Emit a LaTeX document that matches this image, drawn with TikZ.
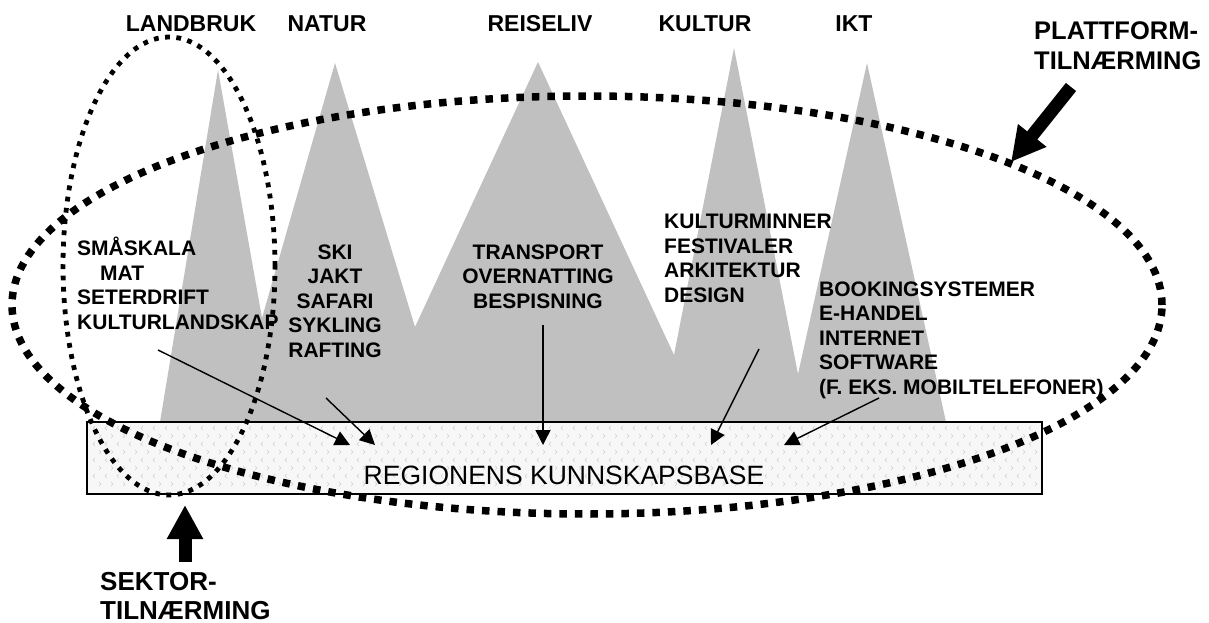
\documentclass[tikz,border=0pt]{standalone}
\usepackage{fontspec}
\setmainfont{Liberation Sans}
\usetikzlibrary{arrows.meta}
\definecolor{peak-grey}{HTML}{C0C0C0}
\colorlet{base-fill}{black!3}
\colorlet{base-mark}{black!18}

\begin{document}
\begin{tikzpicture}[x=1pt, y=-1pt,
    head/.style={font=\fontsize{23}{27}\selectfont\bfseries, anchor=base, inner sep=0pt},
    items/.style={font=\fontsize{21}{24.5}\selectfont\bfseries, inner sep=0pt},
    approach/.style={font=\fontsize{25.5}{30}\selectfont\bfseries, align=left, anchor=base west, inner sep=0pt},
    link/.style={line width=1.4pt, -{Triangle[length=15pt, width=15pt]}},
    bigarrow/.style={line width=13pt, -{Triangle[length=34pt, width=34pt]}},
    platform/.style={line width=7.5pt, dash pattern=on 7.5pt off 8pt},
    sector/.style={line width=4.8pt, dash pattern=on 4.8pt off 6.5pt}]
    \useasboundingbox (0,0) rectangle (1209,623);

    % the five peaks
    \fill[peak-grey] (160,422) -- (218,70) -- (262,318) -- (335,63) -- (415,327)
        -- (538,62) -- (674,355) -- (734,48) -- (798,374) -- (867,63) -- (946,422) -- cycle;

    % knowledge base
    \node[draw, line width=1.2pt, fill=base-fill, minimum width=955pt, minimum height=72pt,
        inner sep=0pt] (base) at (564.5,458) {};
    \foreach \py [count=\r] in {428,436,...,490} {
        \foreach \px in {93,105,...,1036} {
            \ifodd\r
                \draw[base-mark, line width=0.5pt] (\px+2,\py-2) -- (\px,\py) -- (\px+2,\py+2);
            \else
                \draw[base-mark, line width=0.5pt] (\px+6,\py-2) -- (\px+8,\py) -- (\px+6,\py+2);
            \fi
        }
    }
    \node[font=\fontsize{26.5}{30}\selectfont, anchor=base, inner sep=0pt] (basetext) at (564,484)
        {REGIONENS KUNNSKAPSBASE};

    % sector headings
    \node[head] (landbruk) at (191,32) {LANDBRUK};
    \node[head] (natur) at (327,32) {NATUR};
    \node[head] (reiseliv) at (540,32) {REISELIV};
    \node[head] (kultur) at (705,32) {KULTUR};
    \node[head] (ikt) at (854,32) {IKT};

    % contents of each sector (placed by the baseline of the last line)
    \node[items, align=left, anchor=base west] (landbruk-list) at (77,329)
        {SMÅSKALA\\\hspace*{23pt}MAT\\SETERDRIFT\\KULTURLANDSKAP};
    \node[items, align=center, anchor=base] (natur-list) at (335,357)
        {SKI\\JAKT\\SAFARI\\SYKLING\\RAFTING};
    \node[items, align=center, anchor=base] (reiseliv-list) at (538,308)
        {TRANSPORT\\OVERNATTING\\BESPISNING};
    \node[items, align=left, anchor=base west] (kultur-list) at (664,302)
        {KULTURMINNER\\FESTIVALER\\ARKITEKTUR\\DESIGN};
    \node[items, align=left, anchor=base west] (ikt-list) at (819,394)
        {BOOKINGSYSTEMER\\E-HANDEL\\INTERNET\\SOFTWARE\\(F. EKS. MOBILTELEFONER)};

    % links down into the base
    \coordinate (landbruk-from) at (158,350);
    \coordinate (landbruk-to) at (350,445);
    \coordinate (natur-from) at (326,398);
    \coordinate (natur-to) at (375,445);
    \coordinate (reiseliv-from) at (543,325);
    \coordinate (reiseliv-to) at (543,445);
    \coordinate (kultur-from) at (759,349);
    \coordinate (kultur-to) at (711,445);
    \coordinate (ikt-from) at (879,398);
    \coordinate (ikt-to) at (784,445);
    \draw[link] (landbruk-from) -- (landbruk-to);
    \draw[link] (natur-from) -- (natur-to);
    \draw[link] (reiseliv-from) -- (reiseliv-to);
    \draw[link] (kultur-from) -- (kultur-to);
    \draw[link] (ikt-from) -- (ikt-to);

    % the two approaches
    \draw[sector] (169,266) ellipse [x radius=106pt, y radius=229pt];
    \draw[platform] (587,305) ellipse [x radius=575pt, y radius=209pt];

    \node[approach] (plattform) at (1034,70) {PLATTFORM-\\TILNÆRMING};
    \node[approach, font=\fontsize{26}{29}\selectfont\bfseries] (sektor) at (100,619)
        {SEKTOR-\\TILNÆRMING};
    \coordinate (plattform-from) at (1071,87);
    \coordinate (plattform-to) at (1011,162);
    \coordinate (sektor-from) at (185,562);
    \coordinate (sektor-to) at (185,505);
    \draw[bigarrow] (plattform-from) -- (plattform-to);
    \draw[bigarrow] (sektor-from) -- (sektor-to);
\end{tikzpicture}
\end{document}
